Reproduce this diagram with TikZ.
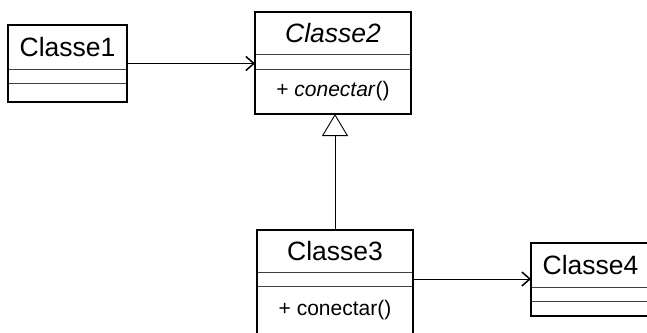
\documentclass[tikz,border=0pt]{standalone}
\usepackage{fontspec}
\setmainfont{Liberation Sans}
\usetikzlibrary{arrows.meta,positioning,fit}

\newcommand{\namefont}{\fontsize{26.5}{30}\selectfont}
\newcommand{\opsfont}{\fontsize{21}{25}\selectfont}

\begin{document}
\begin{tikzpicture}[x=1pt,y=-1pt,
  part/.style={draw=black!75,line width=0.8pt,inner sep=0pt,outer sep=0pt},
  classbox/.style={draw,line width=1.8pt,inner sep=0pt,outer sep=0pt},
  assoc/.style={-{Straight Barb[length=8pt,width=14pt,line width=1.5pt]},line width=0.9pt},
  inherit/.style={-{Triangle[open,length=22pt,width=26pt,line width=0.9pt]},line width=0.9pt}
]
\clip (0,0) rectangle (647,332);

% Classe1
\node[part,minimum width=119pt,minimum height=44pt,font=\namefont,anchor=north west] (c1name) at (8,25) {Classe1};
\node[part,minimum width=119pt,minimum height=14pt,below=0pt of c1name] (c1attr) {};
\node[part,minimum width=119pt,minimum height=19pt,below=0pt of c1attr] (c1ops) {};
\node[classbox,fit=(c1name)(c1ops)] (classe1) {};

% Classe2
\node[part,minimum width=156pt,minimum height=42pt,font=\namefont\itshape,anchor=north west] (c2name) at (255,12) {Classe2};
\node[part,minimum width=156pt,minimum height=15pt,below=0pt of c2name] (c2attr) {};
\node[part,minimum width=156pt,minimum height=45pt,font=\opsfont,below=0pt of c2attr] (c2ops) {+ \textit{conectar}()};
\node[classbox,fit=(c2name)(c2ops)] (classe2) {};

% Classe3 (runs past the bottom edge)
\node[part,minimum width=156pt,minimum height=42pt,font=\namefont,anchor=north west] (c3name) at (257,230) {Classe3};
\node[part,minimum width=156pt,minimum height=14pt,below=0pt of c3name] (c3attr) {};
\node[part,minimum width=156pt,minimum height=48pt,font=\opsfont,below=0pt of c3attr] (c3ops) {\raisebox{2pt}{+ conectar()}};
\node[classbox,fit=(c3name)(c3ops)] (classe3) {};

% Classe4 (runs past the right edge)
\node[part,minimum width=119pt,minimum height=44pt,font=\namefont,anchor=north west] (c4name) at (531,243) {Classe4};
\node[part,minimum width=119pt,minimum height=14pt,below=0pt of c4name] (c4attr) {};
\node[part,minimum width=119pt,minimum height=15pt,below=0pt of c4attr] (c4ops) {};
\node[classbox,fit=(c4name)(c4ops)] (classe4) {};

\draw[assoc] (classe1.east) -- (classe1.east -| classe2.west);
\draw[assoc] (c3attr.east) -- (c3attr.east -| classe4.west);
\draw[inherit] (classe3.north) -- (classe3.north |- classe2.south);
\end{tikzpicture}
\end{document}
